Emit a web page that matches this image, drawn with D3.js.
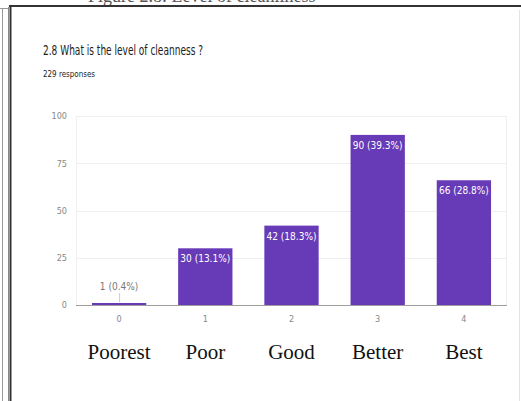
<!DOCTYPE html>
<html><head><meta charset="utf-8">
<script src="https://cdn.jsdelivr.net/npm/d3@7"></script>
<style>
html,body{margin:0;padding:0;background:#fff;}
svg{display:block;}
.cond{font-family:"Liberation Sans Narrow","DejaVu Sans Condensed",Roboto,sans-serif;}
</style></head>
<body>
<script>
const codes = ["0","1","2","3","4"];
const names = ["Poorest","Poor","Good","Better","Best"];
const counts = [1,30,42,90,66];
const percents = ["0.4%","13.1%","18.3%","39.3%","28.8%"];
const yTicks = [0,25,50,75,100];
const caption = "Figure 2.8: Level of cleanliness";
const title = "2.8 What is the level of cleanness ?";
const subtitle = "229 responses";

const W = 521, H = 401;
const svg = d3.select("body").append("svg").attr("width", W).attr("height", H);

// frame
svg.append("text").attr("x", 88).attr("y", 2).attr("font-family","Liberation Serif, serif")
  .attr("font-size", 18).attr("fill","#555").text(caption);
svg.append("line").attr("x1",2.5).attr("x2",2.5).attr("y1",8).attr("y2",H).attr("stroke","#999").attr("stroke-width",1);
svg.append("line").attr("x1",0).attr("x2",9).attr("y1",8.5).attr("y2",8.5).attr("stroke","#999").attr("stroke-width",1);
svg.append("line").attr("x1",8.5).attr("x2",8.5).attr("y1",7).attr("y2",H).attr("stroke","#888").attr("stroke-width",1);
svg.append("line").attr("x1",10.5).attr("x2",10.5).attr("y1",5).attr("y2",H).attr("stroke","#333").attr("stroke-width",2);
svg.append("line").attr("x1",9).attr("x2",W).attr("y1",6).attr("y2",6).attr("stroke","#333").attr("stroke-width",2);
svg.append("line").attr("x1",519.5).attr("x2",519.5).attr("y1",10).attr("y2",H).attr("stroke","#e4e4e4").attr("stroke-width",1);

// titles
svg.append("text").attr("class","cond").attr("x",43).attr("y",55).attr("font-size",14)
  .attr("fill","#212121").attr("textLength",160).attr("lengthAdjust","spacingAndGlyphs").text(title);
svg.append("text").attr("class","cond").attr("x",43).attr("y",77).attr("font-size",9.5)
  .attr("fill","#212121").attr("textLength",52).attr("lengthAdjust","spacingAndGlyphs").text(subtitle);

const x = d3.scaleBand().domain(codes).range([76,507]).paddingInner(0.37).paddingOuter(0.185);
const y = d3.scaleLinear().domain([0,100]).range([305,116]);

// plot box + grid
const g = svg.append("g");
g.selectAll(".grid").data(yTicks.filter(d=>d>0)).join("line")
  .attr("x1",76).attr("x2",507).attr("y1",d=>Math.round(y(d))+0.5).attr("y2",d=>Math.round(y(d))+0.5)
  .attr("stroke","#efefef");
g.append("line").attr("x1",76.5).attr("x2",76.5).attr("y1",y(100)).attr("y2",y(0)).attr("stroke","#f0f0f0");
g.append("line").attr("x1",506.5).attr("x2",506.5).attr("y1",y(100)).attr("y2",y(0)).attr("stroke","#f0f0f0");

// y axis labels
const yAxis = d3.axisLeft(y).tickValues(yTicks).tickSize(0).tickPadding(9);
const ya = svg.append("g").attr("transform","translate(76,0)").call(yAxis);
ya.select(".domain").remove();
ya.selectAll("text").attr("class","cond").attr("font-size",9).attr("fill","#888");

// bars
const data = codes.map((c,i)=>({c, n:counts[i], p:percents[i], name:names[i]}));
svg.selectAll(".bar").data(data).join("rect")
  .attr("x",d=>x(d.c)).attr("width",x.bandwidth())
  .attr("y",d=>Math.min(y(d.n), y(0)-2)).attr("height",d=>Math.max(y(0)-y(d.n),2))
  .attr("fill","#673ab7");

// baseline
svg.append("line").attr("x1",76).attr("x2",507).attr("y1",305.5).attr("y2",305.5).attr("stroke","#9e9e9e");

// value labels
svg.selectAll(".vl").data(data).join("text").attr("class","cond")
  .attr("x",d=>x(d.c)+x.bandwidth()/2)
  .attr("y",d=> d.n>10 ? y(d.n)+14 : y(d.n)-13)
  .attr("text-anchor","middle").attr("font-size",10)
  .attr("fill",d=> d.n>10 ? "#fff" : "#777")
  .text(d=>`${d.n} (${d.p})`);
svg.selectAll(".leader").data(data.filter(d=>d.n<=10)).join("line")
  .attr("x1",d=>x(d.c)+x.bandwidth()/2+0.5).attr("x2",d=>x(d.c)+x.bandwidth()/2+0.5)
  .attr("y1",d=>y(d.n)-10).attr("y2",d=>y(d.n)-1).attr("stroke","#ccc");

// x axis labels
const xAxis = d3.axisBottom(x).tickSize(0).tickPadding(11);
const xa = svg.append("g").attr("transform","translate(0,305)").call(xAxis);
xa.select(".domain").remove();
xa.selectAll("text").attr("class","cond").attr("font-size",9).attr("fill","#888");

// category names
svg.selectAll(".cat").data(data).join("text")
  .attr("x",d=>x(d.c)+x.bandwidth()/2).attr("y",359)
  .attr("text-anchor","middle").attr("font-family","Liberation Serif, 'Times New Roman', serif")
  .attr("font-size",21).attr("fill","#111").text(d=>d.name);
</script>
</body></html>
